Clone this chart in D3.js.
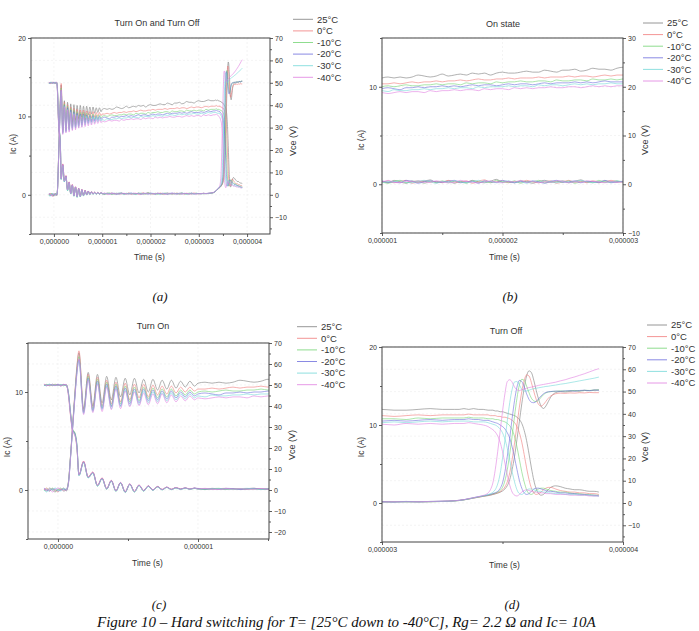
<!DOCTYPE html>
<html>
<head>
<meta charset="utf-8">
<script src="https://cdn.jsdelivr.net/npm/d3@7"></script>
<style>
  body { margin: 0; background: #fff; }
  svg { display: block; }
  text { font-family: "Liberation Sans", Arial, sans-serif; fill: #333; }
  text.serif { font-family: "Liberation Serif", "Times New Roman", serif; font-style: italic; fill: #111; }
</style>
</head>
<body>
<div id="chart"></div>
<script>
// sample times in microseconds (turn-on, on-state, turn-off)
const timeUs = [
  -0.10,-0.08,-0.06,-0.04,-0.02,0,0.02,0.04,0.06,
  0.075,0.09,0.105,0.12,0.135,
  0.15,0.183,0.216,0.249,0.282,0.315,0.348,0.381,0.414,0.447,0.48,0.513,0.546,0.579,0.612,0.645,0.678,0.711,0.744,0.777,0.81,0.843,0.876,0.909,0.942,0.975,
  1.00,1.05,1.10,1.15,1.20,1.25,1.30,1.35,1.40,1.45,1.50,1.55,1.60,1.65,1.70,1.75,1.80,1.85,1.90,1.95,
  2.00,2.05,2.10,2.15,2.20,2.25,2.30,2.35,2.40,2.45,2.50,2.55,2.60,2.65,2.70,2.75,2.80,2.85,2.90,2.95,
  3.00,3.05,3.10,3.15,3.20,3.25,3.30,
  3.32,3.34,3.36,3.38,3.40,3.42,3.44,
  3.45,3.46,3.47,3.48,3.49,3.50,3.51,3.52,3.53,3.54,3.55,3.56,3.57,3.58,3.59,3.60,3.61,3.62,3.63,3.64,3.65,3.66,3.67,3.68,3.69,3.70,
  3.72,3.74,3.76,3.78,3.80,3.82,3.84,3.86,3.88,3.90
];

const temps = ['25°C', '0°C', '-10°C', '-20°C', '-30°C', '-40°C'];

// collector current Ic (A)
const ic25 = [
  0.1,-0.1,0.2,0.0,-0.2,0.1,0.0,0.2,-0.1,
  0.8,3.5,6.6,9.6,12.4,
  14.0,8.3,12.0,8.6,11.8,8.9,11.6,9.2,11.5,9.5,11.4,9.7,11.4,9.9,11.3,10.0,11.3,10.2,11.2,10.3,11.2,10.4,11.1,10.5,11.1,10.6,
  10.9,11.0,10.9,11.0,10.9,11.0,11.2,11.1,11.0,11.1,11.3,11.1,11.2,11.3,11.2,11.4,11.3,11.4,11.2,11.4,
  11.5,11.4,11.4,11.5,11.6,11.5,11.5,11.7,11.6,11.5,11.7,11.7,11.8,11.6,11.7,11.9,11.8,11.8,11.7,11.9,
  12.0,11.9,11.9,12.0,12.1,12.0,12.0,
  12.0,12.1,12.0,12.1,12.0,12.0,11.9,
  11.9,11.9,11.8,11.8,11.7,11.7,11.6,11.5,11.4,11.3,11.2,11.0,10.7,10.2,9.3,8.0,6.3,4.5,2.9,1.8,1.2,1.0,1.1,1.4,1.7,2.0,
  2.2,2.1,1.9,1.8,1.7,1.7,1.6,1.5,1.5,1.4
];
const ic0 = [
  0.0,0.2,-0.1,0.1,0.0,-0.2,0.1,0.0,0.1,
  0.9,3.6,6.7,9.8,12.6,
  14.2,8.1,11.8,8.4,11.5,8.6,11.2,8.8,11.0,9.0,10.9,9.2,10.8,9.4,10.8,9.5,10.7,9.7,10.6,9.8,10.6,9.9,10.5,10.0,10.5,10.1,
  10.3,10.3,10.4,10.3,10.4,10.5,10.4,10.5,10.5,10.6,10.5,10.6,10.6,10.7,10.6,10.7,10.8,10.7,10.7,10.8,
  10.8,10.9,10.8,10.9,10.9,10.9,11.0,10.9,11.0,11.0,11.0,11.1,11.0,11.1,11.1,11.0,11.1,11.2,11.1,11.2,
  11.2,11.1,11.2,11.3,11.2,11.3,11.3,
  11.3,11.3,11.4,11.3,11.3,11.3,11.3,
  11.2,11.2,11.2,11.1,11.1,11.0,11.0,10.9,10.8,10.6,10.3,9.8,9.0,7.8,6.2,4.5,3.0,1.9,1.3,1.1,1.2,1.4,1.7,1.9,2.0,2.0,
  1.8,1.6,1.5,1.4,1.4,1.3,1.3,1.2,1.2,1.1
];
const icM10 = [
  -0.1,0.1,0.0,0.2,-0.1,0.0,0.2,-0.1,0.0,
  0.8,3.5,6.5,9.5,12.2,
  13.6,8.0,11.6,8.2,11.3,8.4,11.0,8.6,10.8,8.8,10.6,9.0,10.5,9.1,10.5,9.3,10.4,9.4,10.3,9.5,10.3,9.6,10.2,9.7,10.2,9.8,
  10.0,10.1,10.0,10.1,10.2,10.1,10.1,10.2,10.2,10.3,10.2,10.3,10.3,10.2,10.4,10.3,10.4,10.4,10.3,10.5,
  10.4,10.5,10.5,10.6,10.5,10.5,10.6,10.6,10.5,10.7,10.6,10.6,10.7,10.7,10.6,10.8,10.7,10.7,10.8,10.7,
  10.8,10.8,10.7,10.9,10.8,10.9,10.9,
  10.9,10.9,11.0,10.9,10.9,10.9,10.8,
  10.8,10.8,10.7,10.7,10.6,10.5,10.4,10.2,9.9,9.4,8.5,7.2,5.6,4.0,2.7,1.7,1.2,1.1,1.3,1.6,1.8,1.9,1.9,1.8,1.7,1.6,
  1.5,1.4,1.4,1.3,1.2,1.2,1.1,1.1,1.0,1.0
];
const icM20 = [
  0.2,0.0,-0.1,0.1,0.1,-0.1,0.0,0.1,0.0,
  0.7,3.4,6.4,9.4,12.0,
  13.3,7.9,11.4,8.1,11.1,8.3,10.8,8.5,10.6,8.6,10.4,8.8,10.3,8.9,10.3,9.1,10.2,9.2,10.1,9.3,10.1,9.4,10.0,9.5,10.0,9.6,
  9.8,9.9,9.8,9.7,9.9,9.9,10.0,9.9,10.0,10.0,10.1,10.0,10.1,10.0,10.1,10.2,10.1,10.2,10.2,10.1,
  10.2,10.3,10.2,10.3,10.3,10.2,10.3,10.4,10.3,10.4,10.4,10.4,10.5,10.4,10.5,10.4,10.5,10.6,10.5,10.5,
  10.5,10.6,10.5,10.6,10.7,10.6,10.7,
  10.7,10.7,10.8,10.7,10.7,10.6,10.6,
  10.5,10.4,10.3,10.2,10.0,9.8,9.5,9.0,8.3,7.2,5.8,4.3,2.9,1.9,1.3,1.1,1.2,1.5,1.8,1.9,1.9,1.8,1.7,1.6,1.5,1.5,
  1.4,1.3,1.3,1.2,1.2,1.1,1.1,1.0,1.0,0.9
];
const icM30 = [
  0.0,-0.2,0.1,0.0,0.2,0.0,-0.1,0.1,0.1,
  0.8,3.4,6.4,9.3,11.9,
  13.2,7.8,11.3,8.0,10.9,8.2,10.6,8.3,10.4,8.5,10.2,8.6,10.1,8.7,10.1,8.9,10.0,9.0,9.9,9.1,9.9,9.2,9.8,9.3,9.8,9.4,
  9.6,9.5,9.7,9.6,9.6,9.7,9.7,9.8,9.7,9.8,9.8,9.9,9.8,9.9,9.9,9.8,10.0,9.9,10.0,10.0,
  10.0,10.1,10.0,10.1,10.1,10.0,10.2,10.1,10.2,10.2,10.1,10.2,10.3,10.2,10.3,10.2,10.3,10.3,10.4,10.3,
  10.3,10.4,10.3,10.4,10.5,10.4,10.5,
  10.5,10.5,10.5,10.4,10.4,10.4,10.3,
  10.2,10.1,10.0,9.8,9.5,9.0,8.2,7.0,5.5,4.0,2.7,1.7,1.2,1.1,1.3,1.6,1.8,1.8,1.7,1.6,1.5,1.5,1.4,1.4,1.3,1.3,
  1.2,1.2,1.1,1.1,1.1,1.0,1.0,1.0,0.9,0.9
];
const icM40 = [
  0.1,0.0,0.1,-0.2,0.0,0.2,0.1,-0.1,0.0,
  0.7,3.3,6.3,9.2,11.8,
  13.4,7.7,11.2,7.9,10.8,8.0,10.5,8.2,10.3,8.3,10.1,8.5,10.0,8.6,9.9,8.7,9.8,8.8,9.8,8.9,9.7,9.0,9.6,9.1,9.6,9.2,
  9.4,9.3,9.4,9.5,9.4,9.5,9.5,9.4,9.6,9.5,9.6,9.6,9.7,9.6,9.7,9.7,9.6,9.8,9.7,9.8,
  9.8,9.7,9.9,9.8,9.9,9.8,9.9,9.9,10.0,9.9,9.9,10.0,10.0,9.9,10.0,10.1,10.0,10.1,10.0,10.1,
  10.1,10.0,10.2,10.1,10.2,10.1,10.2,
  10.2,10.2,10.3,10.2,10.1,10.0,9.8,
  9.6,9.4,9.1,8.6,7.8,6.6,5.1,3.6,2.3,1.4,1.0,0.9,1.1,1.4,1.6,1.7,1.6,1.5,1.4,1.4,1.3,1.3,1.3,1.2,1.2,1.2,
  1.1,1.1,1.1,1.0,1.0,1.0,1.0,0.9,0.9,0.9
];

// collector-emitter voltage Vce (V)
const vce25 = [
  49.6,50.2,49.8,50.4,49.9,50.1,49.5,50.3,49.9,
  46,36,28.5,27,21,
  7.1,13.5,6.0,8.4,2.0,5.6,0.5,4.5,-0.5,3.5,-1.0,2.8,-0.8,2.3,-0.4,1.9,0.0,1.6,0.2,1.3,0.3,1.1,0.4,1.0,0.4,0.9,
  0.6,0.3,0.8,0.5,0.2,0.7,0.4,0.6,0.9,0.3,0.5,0.7,0.2,0.6,0.4,0.8,0.5,0.3,0.6,1.0,
  0.4,0.6,0.3,0.7,0.5,0.2,0.6,0.8,0.4,0.5,0.7,0.3,0.6,0.9,0.4,0.5,0.3,0.7,0.6,0.4,
  0.6,0.5,0.6,0.5,0.7,0.8,1.0,
  1.2,1.5,1.8,2.2,2.6,3.0,3.3,
  3.5,3.8,4.1,4.4,4.8,5.4,6.3,7.8,10.5,15,21,28.5,36.5,44.5,51.5,57,59.3,58.5,55,50.5,46.5,43.5,42.4,43.5,45.5,47.5,
  49.5,50,49.8,50.1,50.3,50.2,50.5,50.4,50.6,50.7
];
const vce0 = [
  50.3,49.7,50.1,49.6,50.4,49.8,50.2,49.9,50.0,
  45,35,28,26.5,20,
  7.4,13.8,6.2,8.6,2.3,5.8,0.7,4.6,-0.3,3.6,-0.8,2.9,-0.6,2.4,-0.2,2.0,0.1,1.7,0.3,1.4,0.4,1.2,0.5,1.0,0.5,0.9,
  0.4,0.7,0.3,0.6,0.8,0.2,0.5,0.7,0.4,0.6,0.3,0.8,0.5,0.4,0.7,0.2,0.6,0.9,0.4,0.5,
  0.7,0.3,0.6,0.4,0.8,0.5,0.3,0.6,0.7,0.2,0.5,0.8,0.4,0.6,0.3,0.7,0.5,0.4,0.8,0.6,
  0.4,0.5,0.7,0.5,0.6,0.7,0.9,
  1.1,1.4,1.8,2.2,2.6,3.0,3.4,
  3.6,3.9,4.2,4.6,5.1,5.9,7.2,9.5,13.5,19.5,27,35,43,50,55,57.5,57,54,50,46.5,44.2,43.5,44.2,45.6,47,48,
  49,49.3,49.2,49.4,49.3,49.5,49.4,49.6,49.5,49.5
];
const vceM10 = [
  49.8,50.3,49.6,50.0,50.2,49.7,50.1,49.6,50.2,
  46.5,37,29,27.5,22,
  6.9,13.2,5.8,8.2,1.9,5.4,0.4,4.3,-0.6,3.4,-1.1,2.7,-0.9,2.2,-0.5,1.8,-0.1,1.5,0.1,1.2,0.2,1.0,0.3,0.9,0.3,0.8,
  0.5,0.2,0.6,0.8,0.3,0.5,0.7,0.2,0.6,0.4,0.7,0.3,0.6,0.5,0.2,0.7,0.4,0.6,0.3,0.8,
  0.5,0.4,0.7,0.2,0.6,0.5,0.8,0.3,0.5,0.6,0.4,0.7,0.2,0.5,0.6,0.3,0.8,0.5,0.4,0.7,
  0.5,0.6,0.4,0.6,0.5,0.7,0.9,
  1.1,1.4,1.8,2.3,2.7,3.1,3.5,
  3.8,4.1,4.4,4.9,5.6,7,10,15,22,30,39,47,53,55.5,55,52.5,49.5,47,45.8,45.5,46.2,47.4,48.6,49.4,49.8,50.0,
  50.1,50.3,50.2,50.4,50.5,50.3,50.6,50.5,50.7,50.8
];
const vceM20 = [
  50.1,49.6,50.3,49.9,49.7,50.4,49.8,50.2,49.7,
  46,36.5,28.5,27,21.5,
  7.0,13.4,5.9,8.3,2.1,5.5,0.6,4.4,-0.4,3.5,-0.9,2.8,-0.7,2.3,-0.3,1.9,0.0,1.6,0.2,1.3,0.3,1.1,0.4,1.0,0.4,0.9,
  0.7,0.4,0.5,0.3,0.8,0.6,0.2,0.5,0.7,0.5,0.4,0.6,0.8,0.3,0.5,0.6,0.2,0.7,0.5,0.4,
  0.8,0.5,0.3,0.6,0.4,0.7,0.5,0.2,0.6,0.8,0.4,0.5,0.7,0.3,0.6,0.5,0.4,0.8,0.3,0.5,
  0.6,0.4,0.7,0.5,0.6,0.8,1.0,
  1.2,1.5,1.9,2.4,2.8,3.2,3.6,
  3.9,4.2,4.6,5.2,6.5,9,14,21,29,38,46,52,55,54.5,52,49,46.5,45.2,45,45.6,46.8,48,49,49.6,49.9,50,
  50.2,50.1,50.3,50.4,50.2,50.5,50.6,50.4,50.7,50.6
];
const vceM30 = [
  49.7,50.0,50.4,49.8,50.1,49.6,50.3,49.8,50.1,
  45.5,36,28,26.5,21,
  6.8,13.0,5.7,8.0,1.8,5.3,0.3,4.2,-0.7,3.3,-1.2,2.6,-1.0,2.1,-0.6,1.7,-0.2,1.4,0.0,1.2,0.1,1.0,0.2,0.9,0.3,0.8,
  0.3,0.6,0.5,0.7,0.4,0.3,0.6,0.8,0.5,0.2,0.6,0.4,0.7,0.5,0.3,0.5,0.8,0.4,0.6,0.3,
  0.5,0.7,0.4,0.5,0.2,0.6,0.4,0.7,0.5,0.3,0.6,0.4,0.5,0.8,0.5,0.3,0.6,0.4,0.5,0.7,
  0.4,0.5,0.6,0.5,0.7,0.7,0.9,
  1.1,1.4,1.9,2.3,2.8,3.2,3.8,
  4.2,4.8,6.0,8.5,13,20,28,37,45,51,54.3,54.5,53,51,50.2,50.3,50.6,51,51.3,51.5,51.7,51.9,52.1,52.3,52.4,52.6,
  52.9,53.3,53.6,54,54.4,54.8,55.2,55.6,56.0,56.5
];
const vceM40 = [
  50.4,49.9,49.7,50.2,49.8,50.0,49.6,50.1,50.3,
  45,35.5,27.5,26,20.5,
  7.2,13.6,6.1,8.5,2.2,5.7,0.6,4.5,-0.4,3.6,-0.9,2.9,-0.7,2.4,-0.3,2.0,0.0,1.7,0.2,1.4,0.3,1.2,0.4,1.1,0.4,1.0,
  0.5,0.8,0.4,0.3,0.6,0.5,0.7,0.3,0.4,0.7,0.5,0.3,0.4,0.8,0.6,0.4,0.3,0.5,0.7,0.4,
  0.3,0.6,0.5,0.8,0.4,0.6,0.3,0.5,0.4,0.7,0.6,0.3,0.5,0.4,0.7,0.6,0.5,0.3,0.6,0.4,
  0.5,0.6,0.5,0.6,0.7,0.8,1.0,
  1.2,1.5,2.0,2.4,2.9,3.4,4.5,
  6,9,15,23,32,41,49,54.5,55.3,54.2,52,50.8,50.5,50.8,51.2,51.5,51.8,52.0,52.3,52.5,52.8,53.0,53.2,53.4,53.6,53.8,
  54.2,54.8,55.3,56.0,56.6,57.3,58.0,58.8,59.6,60.3
];

const icSeries = [ic25, ic0, icM10, icM20, icM30, icM40];
const vceSeries = [vce25, vce0, vceM10, vceM20, vceM30, vceM40];
const colors = ['#7c7c7c', '#f07a7a', '#72d472', '#6c6cdc', '#72d8d8', '#e07ee0'];

icSeries.concat(vceSeries).forEach((s, i) => {
  if (s.length !== timeUs.length) throw new Error('series ' + i + ' has ' + s.length + ' points');
});

// the four views of the same waveforms
const panels = [
  { tag: '(a)', title: 'Turn On and Turn Off', box: [31, 38, 270, 234],
    tDom: [-0.475, 4.475], icDom: [-5, 20], vceDom: [-17.5, 70],
    tTicks: [0, 1, 2, 3, 4], icTicks: [0, 10, 20], vceTicks: [-10, 0, 10, 20, 30, 40, 50, 60, 70],
    titleXY: [157, 26], xLabY: 260, icLab: [13, 144], vceLab: [293, 141], legend: [293, 19.3], tagXY: [160, 301] },
  { tag: '(b)', title: 'On state', box: [382, 38, 623, 233],
    tDom: [1, 3], icDom: [-5, 15], vceDom: [-10, 30],
    tTicks: [1, 2, 3], icTicks: [0, 10], vceTicks: [-10, 0, 10, 20, 30],
    titleXY: [503, 27], xLabY: 260, icLab: [361, 140], vceLab: [645, 140], legend: [643, 23], tagXY: [510, 301] },
  { tag: '(c)', title: 'Turn On', box: [28, 343, 269, 539],
    tDom: [-0.214, 1.507], icDom: [-5, 15], vceDom: [-23.333, 70],
    tTicks: [0, 1], icTicks: [0, 10], vceTicks: [-20, -10, 0, 10, 20, 30, 40, 50, 60, 70],
    titleXY: [153, 329], xLabY: 566, icLab: [7, 447], vceLab: [292, 445], legend: [297, 326.7], tagXY: [159, 609] },
  { tag: '(d)', title: 'Turn Off', box: [382, 347, 623, 542],
    tDom: [3, 4], icDom: [-5, 20], vceDom: [-17.5, 70],
    tTicks: [3, 4], icTicks: [0, 10, 20], vceTicks: [-10, 0, 10, 20, 30, 40, 50, 60, 70],
    titleXY: [506, 334], xLabY: 568, icLab: [361, 447], vceLab: [645, 447], legend: [647, 325], tagXY: [512, 609] }
];

const W = 699, H = 631;
const svg = d3.select('#chart').append('svg').attr('width', W).attr('height', H);
svg.append('rect').attr('width', W).attr('height', H).attr('fill', '#fff');

const fmtT = d => d3.format('.6f')(d * 1e-6).replace('.', ',');
const inside = (dom, v) => v >= Math.min(...dom) - 1e-9 && v <= Math.max(...dom) + 1e-9;
const minorOf = (dom, step, major) =>
  d3.range(Math.ceil(dom[0] / step) * step, dom[1] + 1e-9, step)
    .map(v => +v.toFixed(6))
    .filter(v => !major.includes(v));

function styleAxis(sel) {
  sel.select('.domain').remove();
  sel.selectAll('line').attr('stroke', '#333').attr('stroke-width', 0.8);
  sel.selectAll('text').attr('font-size', 7);
}

panels.forEach((p, pi) => {
  const [bx0, by0, bx1, by1] = p.box;
  const x = d3.scaleLinear().domain(p.tDom).range([bx0, bx1]);
  const yI = d3.scaleLinear().domain(p.icDom).range([by1, by0]);
  const yV = d3.scaleLinear().domain(p.vceDom).range([by1, by0]);
  const g = svg.append('g');

  // faint grid
  const grid = g.append('g').attr('stroke', '#ececec').attr('stroke-width', 0.6).attr('stroke-dasharray', '2,2');
  grid.selectAll('line.h').data(p.vceTicks.filter(v => inside(p.vceDom, v))).join('line')
    .attr('x1', bx0).attr('x2', bx1).attr('y1', d => yV(d)).attr('y2', d => yV(d));
  grid.selectAll('line.v').data(p.tTicks.filter(v => inside(p.tDom, v))).join('line')
    .attr('y1', by0).attr('y2', by1).attr('x1', d => x(d)).attr('x2', d => x(d));

  // traces
  svg.append('clipPath').attr('id', 'clip' + pi)
    .append('rect').attr('x', bx0).attr('y', by0).attr('width', bx1 - bx0).attr('height', by1 - by0);
  const plot = g.append('g').attr('clip-path', `url(#clip${pi})`).attr('fill', 'none');
  const lineI = d3.line().x(d => x(d[0])).y(d => yI(d[1])).curve(d3.curveMonotoneX);
  const lineV = d3.line().x(d => x(d[0])).y(d => yV(d[1])).curve(d3.curveMonotoneX);
  temps.forEach((tp, k) => {
    const ptsI = timeUs.map((t, i) => [t, icSeries[k][i]]);
    const ptsV = timeUs.map((t, i) => [t, vceSeries[k][i]]);
    plot.append('path').datum(ptsV).attr('d', lineV)
      .attr('stroke', colors[k]).attr('stroke-width', 0.7).attr('stroke-opacity', 0.85);
    plot.append('path').datum(ptsI).attr('d', lineI)
      .attr('stroke', colors[k]).attr('stroke-width', 0.7).attr('stroke-opacity', 0.85);
  });

  // axes
  g.append('g').attr('transform', `translate(0,${by1})`)
    .call(d3.axisBottom(x).tickValues(p.tTicks).tickSize(3).tickPadding(2).tickFormat(fmtT)).call(styleAxis);
  g.append('g').attr('transform', `translate(0,${by1})`)
    .call(d3.axisBottom(x).tickValues(minorOf(p.tDom, 0.5, p.tTicks)).tickSize(2).tickFormat('')).call(styleAxis);
  g.append('g').attr('transform', `translate(${bx0},0)`)
    .call(d3.axisLeft(yI).tickValues(p.icTicks).tickSize(3).tickPadding(2).tickFormat(d3.format('d'))).call(styleAxis);
  g.append('g').attr('transform', `translate(${bx0},0)`)
    .call(d3.axisLeft(yI).tickValues(minorOf(p.icDom, 5, p.icTicks)).tickSize(2).tickFormat('')).call(styleAxis);
  g.append('g').attr('transform', `translate(${bx1},0)`)
    .call(d3.axisRight(yV).tickValues(p.vceTicks).tickSize(3).tickPadding(2).tickFormat(d3.format('d'))).call(styleAxis);
  g.append('g').attr('transform', `translate(${bx1},0)`)
    .call(d3.axisRight(yV).tickValues(minorOf(p.vceDom, 5, p.vceTicks)).tickSize(2).tickFormat('')).call(styleAxis);

  g.append('rect').attr('x', bx0).attr('y', by0).attr('width', bx1 - bx0).attr('height', by1 - by0)
    .attr('fill', 'none').attr('stroke', '#444').attr('stroke-width', 1);

  // labels
  g.append('text').attr('x', p.titleXY[0]).attr('y', p.titleXY[1]).attr('text-anchor', 'middle')
    .attr('font-size', 9).text(p.title);
  g.append('text').attr('x', (bx0 + bx1) / 2 + (pi % 2 === 0 ? -1 : 2)).attr('y', p.xLabY).attr('text-anchor', 'middle')
    .attr('font-size', 8.5).text('Time (s)');
  g.append('text').attr('transform', `translate(${p.icLab[0]},${p.icLab[1]}) rotate(-90)`)
    .attr('text-anchor', 'middle').attr('dy', '0.35em').attr('font-size', 8.5).text('Ic (A)');
  g.append('text').attr('transform', `translate(${p.vceLab[0]},${p.vceLab[1]}) rotate(-90)`)
    .attr('text-anchor', 'middle').attr('dy', '0.35em').attr('font-size', 9).text('Vce (V)');

  // legend
  const lg = g.append('g').attr('transform', `translate(${p.legend[0]},${p.legend[1]})`);
  temps.forEach((tp, k) => {
    const row = lg.append('g').attr('transform', `translate(0,${k * 11.6})`);
    row.append('line').attr('x1', 0).attr('x2', 20).attr('stroke', colors[k]).attr('stroke-width', 0.8);
    row.append('text').attr('x', 24).attr('dy', '0.35em').attr('font-size', 9.5).text(tp);
  });

  svg.append('text').attr('class', 'serif').attr('x', p.tagXY[0]).attr('y', p.tagXY[1])
    .attr('text-anchor', 'middle').attr('font-size', 13).text(p.tag);
});

svg.append('text').attr('class', 'serif').attr('x', 97).attr('y', 627)
  .attr('font-size', 15)
  .text('Figure 10 – Hard switching for T= [25°C down to -40°C], Rg= 2.2 Ω and Ic= 10A');
</script>
</body>
</html>
